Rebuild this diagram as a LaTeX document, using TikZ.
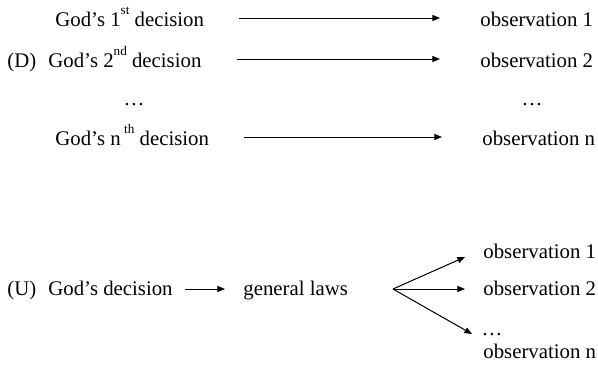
\documentclass[tikz,border=0pt]{standalone}
\usepackage{fontspec}
\setmainfont{Liberation Serif}
\usetikzlibrary{arrows.meta, calc}

\newcommand{\ordsup}[1]{\raisebox{6pt}{\fontsize{6.6}{7}\selectfont #1}}

\begin{document}
\begin{tikzpicture}[
  x=0.5pt, y=-0.5pt,
  font=\fontsize{10.4}{12.5}\selectfont,
  txt/.style={inner sep=0pt, anchor=base west},
  dots/.style={inner sep=0pt, anchor=base},
  arr/.style={-{Triangle[length=3.8pt, width=3pt]}, line width=0.5pt},
  toprow/.style={arr, shorten <=17.5pt, shorten >=20pt}
]
\useasboundingbox (0,0) rectangle (598,376);

% (D) ONE DECISION PER OBSERVATION
\node[txt] (dtag) at (7,67) {(D)};
\node[txt] (d1) at (55,26) {God’s 1\ordsup{st} decision};
\node[txt] (d2) at (48,67) {God’s 2\ordsup{nd} decision};
\node[dots] (ddots) at (134,105) {\dots};
\node[txt] (dn) at (55,145) {God’s n\,\ordsup{th} decision};

\node[txt] (o1) at (480,26) {observation 1};
\node[txt] (o2) at (480,67) {observation 2};
\node[dots] (odots) at (532,105) {\dots};
\node[txt] (on) at (482,145) {observation n};

\draw[toprow] ([yshift=4pt]d1.base east) -- ([yshift=4pt]o1.base west);
\draw[toprow] ([yshift=4pt]d2.base east) -- ([yshift=4pt]o2.base west);
\draw[toprow] ([yshift=4pt]dn.base east) -- ([yshift=4pt]on.base west);

% (U) ONE DECISION, GENERAL LAWS
\node[txt] (utag) at (7,295) {(U)};
\node[txt] (ud) at (48,295) {God’s decision};
\node[txt] (laws) at (243,295) {general laws};
\coordinate (fan) at (393,289);

\node[txt] (u1) at (483,258) {observation 1};
\node[txt] (u2) at (483,295) {observation 2};
\node[dots] (udots) at (492,335) {\dots};
\node[txt] (un) at (483,358) {observation n};

\draw[arr, shorten <=6pt, shorten >=9pt] ([yshift=3pt]ud.base east) -- ([yshift=3pt]laws.base west);
\draw[arr] (fan) -- ($(u1.base west)+(-18,-1)$);
\draw[arr] (fan) -- ($(u2.base west)+(-18,-6)$);
\draw[arr] (fan) -- ($(un.base west)+(-11,-24)$);

\end{tikzpicture}
\end{document}
